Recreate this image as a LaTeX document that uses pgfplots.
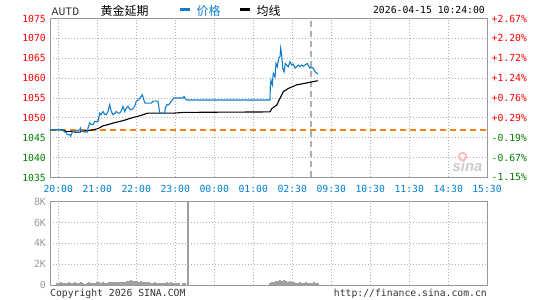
\documentclass[border=0pt]{standalone}
\usepackage{pgfplots}
\pgfplotsset{compat=1.18}
\usepackage{fontspec}
\newfontfamily\mono{DejaVu Sans Mono}
\newfontfamily\lmono{Liberation Mono}
\newfontfamily\cjk{Noto Sans CJK SC}
\newfontfamily\wsans{Liberation Sans}
\definecolor{pblue}{RGB}{16,126,205}
\definecolor{tblue}{RGB}{0,128,210}
\definecolor{pred}{RGB}{255,0,0}
\definecolor{pgreen}{RGB}{0,128,0}
\definecolor{gridc}{RGB}{175,175,175}
\definecolor{framec}{RGB}{153,153,153}
\definecolor{orangeline}{RGB}{245,130,20}
\definecolor{volc}{RGB}{160,160,160}
\definecolor{txt}{RGB}{51,51,51}
\newcommand{\fs}[1]{\fontsize{#1}{#1}\selectfont}
\pgfplotsset{sina/.style={scale only axis, xmin=50, xmax=487,
  axis line style={draw=framec, line width=0.8bp},
  grid=major, major grid style={draw=gridc, line width=0.8bp, dash pattern=on 1bp off 2bp},
  major tick length=0pt,
  xtick={58.3,97.3,136.3,175.3,214.3,253.3,292.3,331.3,370.3,409.3,448.3,487},
  scaled y ticks=false, clip=false}}
\begin{document}
\begin{tikzpicture}[x=1bp,y=1bp]
\path[use as bounding box] (0bp,0bp) rectangle (540bp,300bp);
% main price panel
\begin{axis}[sina, at={(50bp,122.5bp)}, anchor=south west, width=437bp, height=159bp,
  ymin=1035, ymax=1075, ytick={1035,1040,1045,1050,1055,1060,1065,1070,1075},
  yticklabels={\textcolor{pgreen}{1035},\textcolor{pgreen}{1040},\textcolor{pgreen}{1045},\textcolor{pred}{1050},\textcolor{pred}{1055},\textcolor{pred}{1060},\textcolor{pred}{1065},\textcolor{pred}{1070},\textcolor{pred}{1075}},
  xticklabels={20:00,21:00,22:00,23:00,00:00,01:00,02:30,09:30,10:30,11:30,14:30,15:30},
  x tick label style={font=\mono\fs{9.8}, text=tblue, anchor=north, inner sep=0pt, yshift=-7.5bp},
  y tick label style={font=\mono\fs{9.8}, anchor=east, inner sep=0pt, xshift=-4bp}]
\addplot[color=gridc, solid, line width=1.2bp, dash pattern=on 6bp off 4bp] coordinates {(311,1035)(311,1075)};
\addplot[color=orangeline, solid, line width=1.5bp, dash pattern=on 6bp off 4bp] coordinates {(50,1047.0)(487,1047.0)};
\addplot[color=black, line width=1.1bp] coordinates {
(50,1047.0)(63,1047.0)(65,1046.6)(73,1046.6)(75,1046.4)(80,1046.4)(81.3,1046.6)(88,1046.8)
(93,1047.0)(98,1047.3)(103,1048.0)(108,1048.3)(113,1048.7)(118,1049.0)(123,1049.3)(128,1049.7)
(133,1050.1)(138,1050.4)(143,1050.8)(148,1051.2)(161,1051.2)(174,1051.2)(184.7,1051.4)(198,1051.4)
(270,1051.5)(272,1052.4)(276.7,1053.2)(280,1054.9)(283.3,1056.6)(288.3,1057.4)(296.7,1058.3)
(305,1058.7)(316.7,1059.3)(318,1059.3)};
\addplot[color=pblue, line width=1.1bp] coordinates {
(50,1047.0)(63,1047.0)(64.5,1046.4)(66.3,1046.4)(67,1045.8)(69.7,1045.8)(70.5,1045.4)(72,1046.2)
(73,1046.6)(75,1046.6)(77,1046.8)(79.7,1047.0)(80.5,1047.4)(81.3,1046.6)(84,1046.5)(86.3,1046.4)
(87.3,1046.4)(88,1047.4)(89.7,1048.7)(91.5,1048.3)(93,1048.3)(94.7,1049.1)(98,1049.1)(99.7,1051.2)
(101,1050.8)(103,1051.6)(105,1050.8)(106.3,1050.8)(108,1051.6)(109.7,1053.3)(111.3,1051.6)(113,1050.8)
(115,1051.2)(116.3,1051.6)(118,1051.2)(119.7,1051.2)(121,1051.6)(123,1052.9)(124.7,1051.6)(126.3,1052.5)
(128,1052.9)(130,1052.1)(132,1052.1)(134.7,1052.9)(136.3,1054.2)(138.7,1054.6)(141.3,1055.4)(142.3,1055.8)
(143.7,1054.6)(145,1053.7)(151.3,1053.7)(153,1054.2)(158,1054.2)(159.7,1051.2)(164.7,1051.2)(165.3,1052.5)
(167,1053.3)(168.7,1053.3)(171.3,1054.2)(174,1055.0)(183,1055.0)(184,1055.4)(185.3,1054.8)(187,1054.5)
(198,1054.5)(270,1054.5)(270.3,1057.8)(271,1059.5)(272.3,1058.3)(273.3,1061.2)(275,1060.3)(276,1063.7)
(277.3,1062.9)(278.7,1065.0)(280,1065.4)(280.7,1067.5)(281.7,1065.8)(282.7,1062.5)(284,1061.6)(285.3,1063.7)
(286.7,1063.3)(288.3,1062.9)(290,1064.1)(291.7,1063.3)(293.3,1063.5)(295,1062.5)(296.7,1062.9)(298.3,1063.3)
(300,1062.9)(301.7,1063.3)(303.3,1063.0)(305,1063.3)(307.3,1063.7)(308.7,1063.0)(310,1062.5)(311.7,1062.7)
(313.3,1062.5)(315,1061.6)(316.7,1061.3)(317.7,1061.0)};
\begin{scope}[font=\mono\fs{9.8}]
\node[anchor=west, inner sep=0pt, xshift=4.5bp, text=pred] at (axis cs:487,1075) {+2.67\%};
\node[anchor=west, inner sep=0pt, xshift=4.5bp, text=pred] at (axis cs:487,1070) {+2.20\%};
\node[anchor=west, inner sep=0pt, xshift=4.5bp, text=pred] at (axis cs:487,1065) {+1.72\%};
\node[anchor=west, inner sep=0pt, xshift=4.5bp, text=pred] at (axis cs:487,1060) {+1.24\%};
\node[anchor=west, inner sep=0pt, xshift=4.5bp, text=pred] at (axis cs:487,1055) {+0.76\%};
\node[anchor=west, inner sep=0pt, xshift=4.5bp, text=pred] at (axis cs:487,1050) {+0.29\%};
\node[anchor=west, inner sep=0pt, xshift=4.5bp, text=pgreen] at (axis cs:487,1045) {-0.19\%};
\node[anchor=west, inner sep=0pt, xshift=4.5bp, text=pgreen] at (axis cs:487,1040) {-0.67\%};
\node[anchor=west, inner sep=0pt, xshift=4.5bp, text=pgreen] at (axis cs:487,1035) {-1.15\%};
\end{scope}
\end{axis}
% volume panel
\begin{axis}[sina, at={(50bp,15bp)}, anchor=south west, width=437bp, height=83.3bp,
  ymin=0, ymax=8000, ytick={0,2000,4000,6000,8000}, yticklabels={0,2K,4K,6K,8K},
  xticklabels={},
  y tick label style={font=\mono\fs{9.8}, text=framec, anchor=east, inner sep=0pt, xshift=-4bp}]
\addplot[ycomb, color=volc, line width=1.6bp] coordinates {
(57,220)(59,180)(61,260)(63,240)(65,200)(67,180)(69,260)(71,150)(73,220)(75,260)(77,240)(79,200)
(81,250)(83,180)(85,120)(87,240)(89,280)(91,200)(93,160)(95,220)(97,260)(99,300)(101,240)(103,260)
(105,200)(107,240)(109,280)(111,320)(113,260)(115,300)(117,280)(119,260)(121,320)(123,300)(125,280)
(127,340)(129,380)(131,520)(133,420)(135,360)(137,400)(139,300)(141,340)(143,280)(145,300)(147,260)
(149,280)(151,240)(153,220)(155,260)(157,200)(159,240)(161,180)(163,220)(165,200)(167,260)(169,180)
(171,300)(173,200)(175,220)(177,160)(179,200)(183,220)(185,200)
(270,200)(272,300)(274,260)(276,380)(278,420)(280,460)(282,400)(284,480)(286,360)(288,300)(290,340)
(292,260)(294,300)(296,220)(298,240)(300,280)(302,200)(304,220)(306,260)(308,200)(310,240)(312,200)
(314,260)(316,220)(318,200)};
\addplot[ycomb, color=volc, line width=1.8bp] coordinates {(188.3,8000)};
\end{axis}
% header
\node[anchor=base west, inner sep=0pt, font=\lmono\fs{11.5}, text=txt] at (51.5bp,284bp) {AUTD};
\node[anchor=west, inner sep=0pt, font=\cjk\fs{12}] at (100.5bp,289.5bp) {黄金延期};
\draw[pblue, line width=2.5bp] (180bp,290.5bp) -- (190bp,290.5bp);
\node[anchor=west, inner sep=0pt, font=\cjk\fs{12}, text=pblue] at (196.5bp,289.5bp) {价格};
\draw[black, line width=2.5bp] (240bp,290.5bp) -- (250bp,290.5bp);
\node[anchor=west, inner sep=0pt, font=\cjk\fs{12}] at (256.5bp,289.5bp) {均线};
\node[anchor=base east, inner sep=0pt, font=\mono\fs{9.8}] at (485bp,286bp) {2026-04-15 10:24:00};
% footer
\node[anchor=base west, inner sep=0pt, font=\mono\fs{9.8}, text=txt] at (50bp,3.5bp) {Copyright 2026 SINA.COM};
\node[anchor=base east, inner sep=0pt, font=\mono\fs{9.8}, text=txt] at (487bp,3.5bp) {http://finance.sina.com.cn};
% watermark
\draw[red!25, line width=2bp] (462.5bp,143.5bp) circle (3.8bp);
\node[inner sep=0pt, font=\wsans\bfseries\itshape\fs{15}, text=gray!40] at (467.5bp,133.5bp) {sina};
\end{tikzpicture}
\end{document}
